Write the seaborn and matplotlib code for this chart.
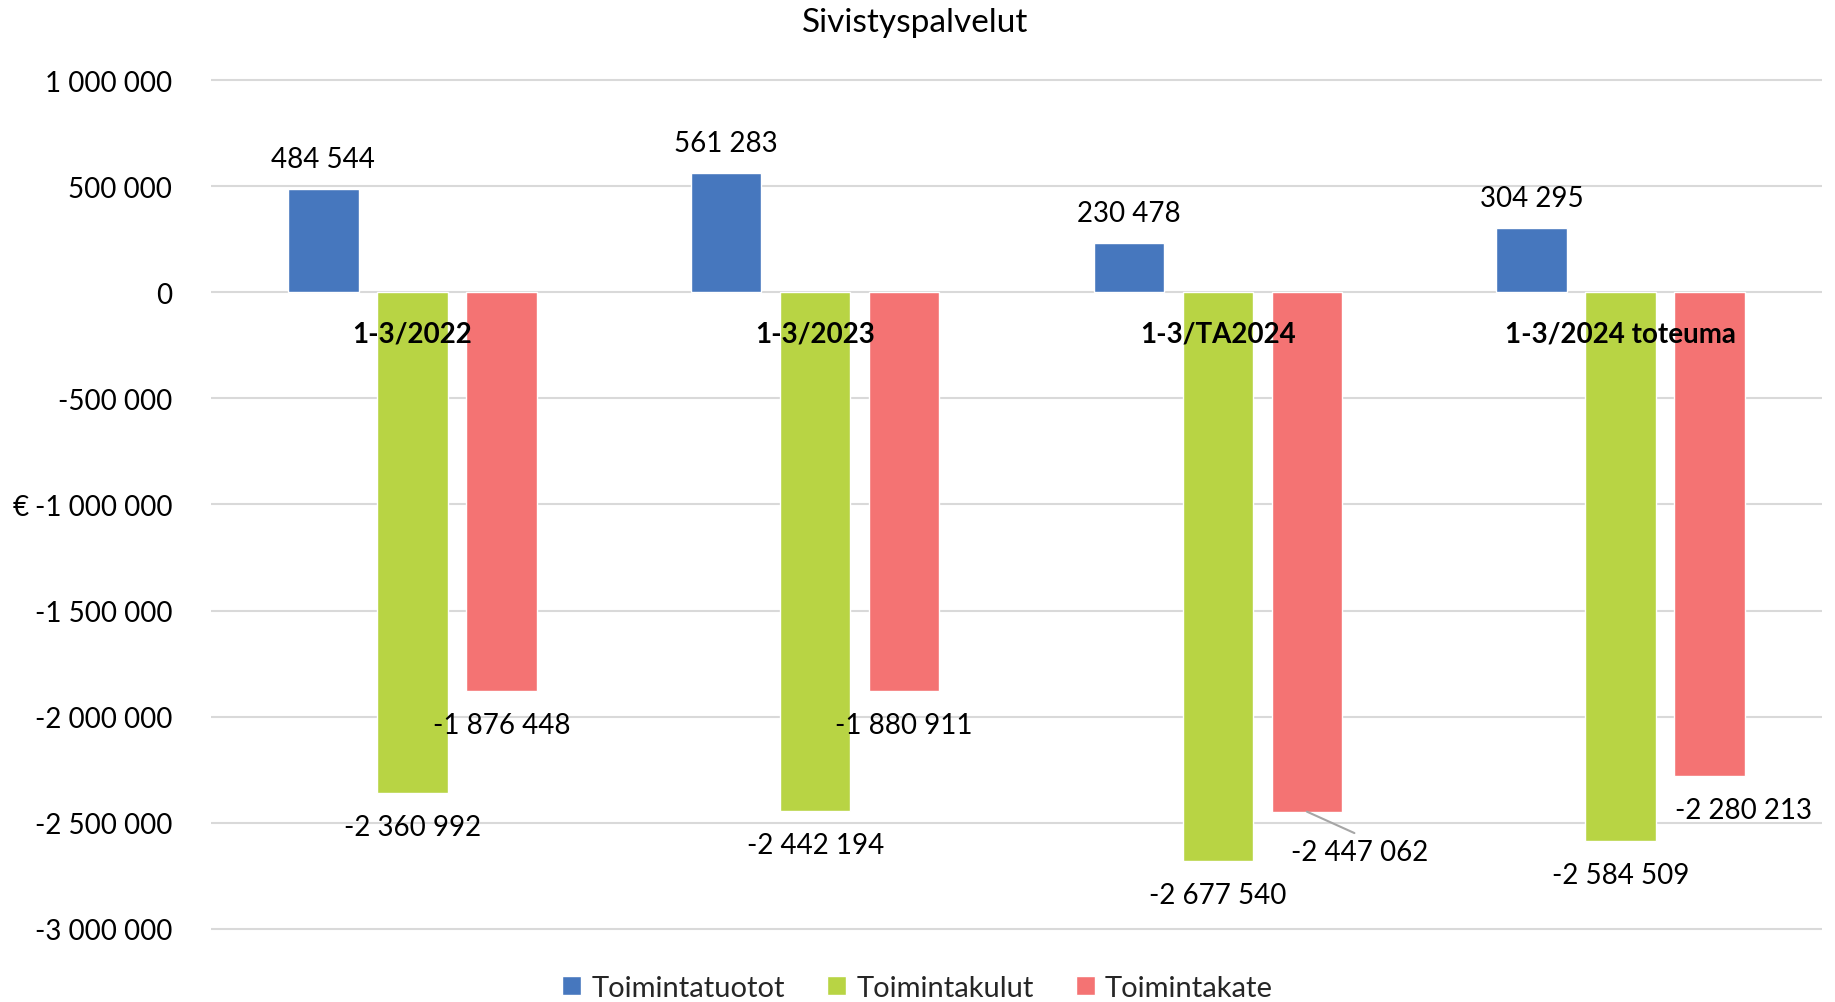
import matplotlib
matplotlib.use("Agg")
import matplotlib.pyplot as plt
import seaborn as sns
import pandas as pd
from matplotlib.ticker import FuncFormatter, MultipleLocator

periods = ["1-3/2022", "1-3/2023", "1-3/TA2024", "1-3/2024 toteuma"]
series = ["Toimintatuotot", "Toimintakulut", "Toimintakate"]
tuotot = [484544, 561283, 230478, 304295]
kulut = [-2360992, -2442194, -2677540, -2584509]
kate = [-1876448, -1880911, -2447062, -2280213]
colors = ["#4677BE", "#B8D444", "#F47373"]
title = "Sivistyspalvelut"

rows = []
for s, vals in zip(series, [tuotot, kulut, kate]):
    for p, v in zip(periods, vals):
        rows.append({"period": p, "series": s, "value": v})
df = pd.DataFrame(rows)

sns.set_theme(style="white")
plt.rcParams["font.family"] = ["Lato", "DejaVu Sans"]
FS = 20

W, H = 1835, 1003
fig = plt.figure(figsize=(W / 100, H / 100), dpi=100)
ymin, ymax = -3.02e6, 1.02e6
ppu = 212e-6
top_px = 81 - (ymax - 1e6) * ppu
bot_px = 930 + (-3e6 - ymin) * ppu
ax = fig.add_axes([211 / W, 1 - bot_px / H, (1822 - 211) / W, (bot_px - top_px) / H])

sns.barplot(data=df, x="period", y="value", hue="series", order=periods,
            hue_order=series, palette=colors, width=0.663, gap=0.21,
            saturation=1, ax=ax, legend=True)

ax.set_ylim(ymin, ymax)
ax.set_xlim(-0.5, len(periods) - 0.5)
ax.yaxis.set_major_locator(MultipleLocator(500000))
ax.yaxis.set_major_formatter(FuncFormatter(lambda v, p: f"{int(round(v)):,}".replace(",", " ")))
ax.grid(axis="y", color="#d9d9d9", linewidth=1.5)
ax.set_axisbelow(True)
for sp in ["top", "right", "left", "bottom"]:
    ax.spines[sp].set_visible(False)
ax.tick_params(axis="both", length=0, labelsize=FS, colors="black")
ax.tick_params(axis="y", pad=28)
ax.tick_params(axis="x", labelbottom=False)
ax.set_xlabel("")
ax.set_ylabel("")

# category labels drawn on top of the bars, next to the zero line
for i, p in enumerate(periods):
    ax.annotate(p, (i, 0), xytext=(0, -41), textcoords="offset pixels",
                ha="center", va="center", fontsize=FS, fontweight="bold",
                color="black", zorder=10)

# data labels
special = {(2, 2): (53, -40, True), (3, 2): (34, -34, False)}
for si, cont in enumerate(ax.containers):
    for ci, bar in enumerate(cont):
        v = bar.get_height()
        xc = bar.get_x() + bar.get_width() / 2
        txt = f"{int(v):,}".replace(",", " ")
        if v >= 0:
            ax.annotate(txt, (xc, v), xytext=(0, 30), textcoords="offset pixels",
                        ha="center", va="center", fontsize=FS, color="black", zorder=10)
        else:
            dx, dy, lead = special.get((ci, si), (0, -34, False))
            kw = {}
            if lead:
                kw["arrowprops"] = dict(arrowstyle="-", color="#a6a6a6", lw=1.5,
                                        relpos=(0.55, 1.0), shrinkA=4, shrinkB=0)
            ax.annotate(txt, (xc, v), xytext=(dx, dy), textcoords="offset pixels",
                        ha="center", va="center", fontsize=FS, color="black",
                        zorder=10, **kw)

handles, labels = ax.get_legend_handles_labels()
ax.get_legend().remove()
fig.legend(handles, labels, loc="center", bbox_to_anchor=(0.5, 1 - 989 / H), ncol=3,
           frameon=False, fontsize=21, handlelength=0.65, handleheight=0.65,
           handletextpad=0.35, columnspacing=1.45)

fig.text(915 / W, 1 - 23 / H, title, ha="center", va="center", fontsize=24, color="black")
fig.text(21 / W, 1 - 508 / H, "€", ha="center", va="center", fontsize=FS, color="black")

fig.savefig("out.png", dpi=100)
